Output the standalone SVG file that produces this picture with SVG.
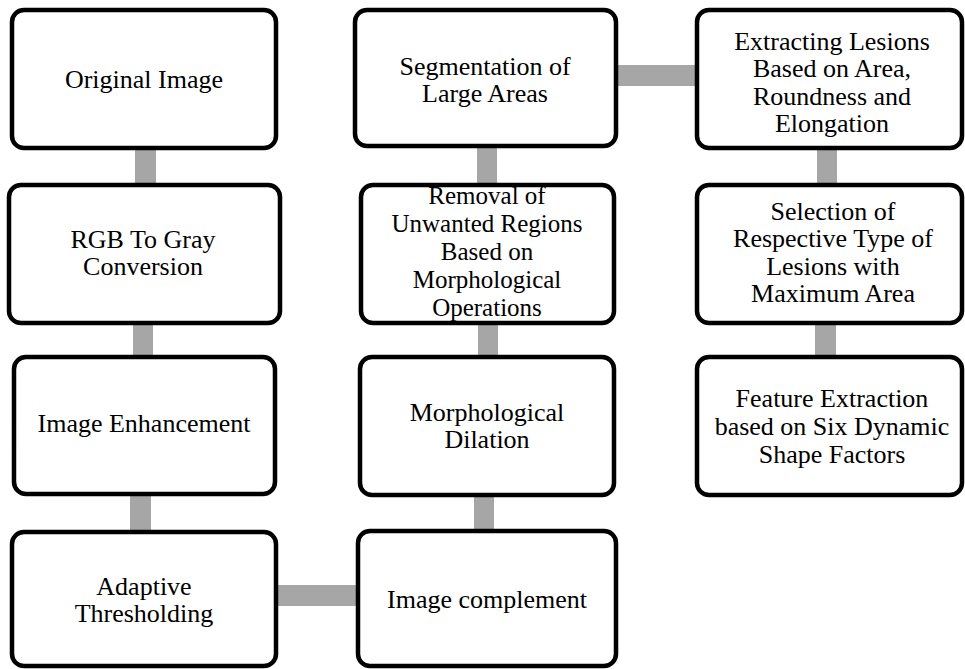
<svg xmlns="http://www.w3.org/2000/svg" width="965" height="669" viewBox="0 0 965 669">
<style>
.box{fill:#fff;stroke:#000;stroke-width:4.5}
.conn{fill:#a6a6a6}
text{font-family:'Liberation Serif',Tinos,'Times New Roman','DejaVu Serif',serif;font-size:26px;fill:#000;text-anchor:middle}
.tight{font-size:25px}
</style>
<rect width="965" height="669" fill="#fff"/>
<g id="connectors">
<rect class="conn" x="135" y="150" width="21" height="34"/>
<rect class="conn" x="133" y="324" width="20" height="32"/>
<rect class="conn" x="130" y="495" width="21" height="36"/>
<rect class="conn" x="277" y="585" width="80" height="21"/>
<rect class="conn" x="474" y="496" width="20" height="34"/>
<rect class="conn" x="478" y="324" width="20" height="32"/>
<rect class="conn" x="477" y="147" width="20" height="37"/>
<rect class="conn" x="617" y="65" width="79" height="21"/>
<rect class="conn" x="817" y="149" width="20" height="35"/>
<rect class="conn" x="815" y="324" width="21" height="32"/>
</g>
<g id="n1"><rect class="box" x="12" y="10" width="264" height="138" rx="12"/><text x="144" y="88">Original Image</text></g>
<g id="n2"><rect class="box" x="9" y="185" width="271" height="138" rx="12"/><text x="143" y="248">RGB To Gray</text><text x="143" y="275">Conversion</text></g>
<g id="n3"><rect class="box" x="14" y="357" width="261" height="137" rx="12"/><text x="144" y="432">Image Enhancement</text></g>
<g id="n4"><rect class="box" x="12" y="532" width="264" height="134" rx="12"/><text x="144" y="595">Adaptive</text><text x="144" y="622">Thresholding</text></g>
<g id="n5"><rect class="box" x="358" y="531" width="258" height="135" rx="12"/><text x="487" y="608">Image complement</text></g>
<g id="n6"><rect class="box" x="360" y="357" width="254" height="138" rx="12"/><text x="487" y="421">Morphological</text><text x="487" y="448">Dilation</text></g>
<g id="n7"><rect class="box" x="361" y="185" width="253" height="138" rx="12"/><text class="tight" x="487" y="204">Removal of</text><text class="tight" x="487" y="232">Unwanted Regions</text><text class="tight" x="487" y="260">Based on</text><text class="tight" x="487" y="288">Morphological</text><text class="tight" x="487" y="316">Operations</text></g>
<g id="n8"><rect class="box" x="355" y="10" width="261" height="136" rx="12"/><text x="485" y="75">Segmentation of</text><text x="485" y="102">Large Areas</text></g>
<g id="n9"><rect class="box" x="697" y="10" width="265" height="138" rx="12"/><text x="832" y="50">Extracting Lesions</text><text x="832" y="77">Based on Area,</text><text x="832" y="105">Roundness and</text><text x="832" y="132">Elongation</text></g>
<g id="n10"><rect class="box" x="697" y="185" width="265" height="138" rx="12"/><text x="833" y="220">Selection of</text><text x="833" y="247">Respective Type of</text><text x="833" y="275">Lesions with</text><text x="833" y="302">Maximum Area</text></g>
<g id="n11"><rect class="box" x="697" y="357" width="265" height="138" rx="12"/><text x="832" y="407">Feature Extraction</text><text x="832" y="435">based on Six Dynamic</text><text x="832" y="463">Shape Factors</text></g>
</svg>
